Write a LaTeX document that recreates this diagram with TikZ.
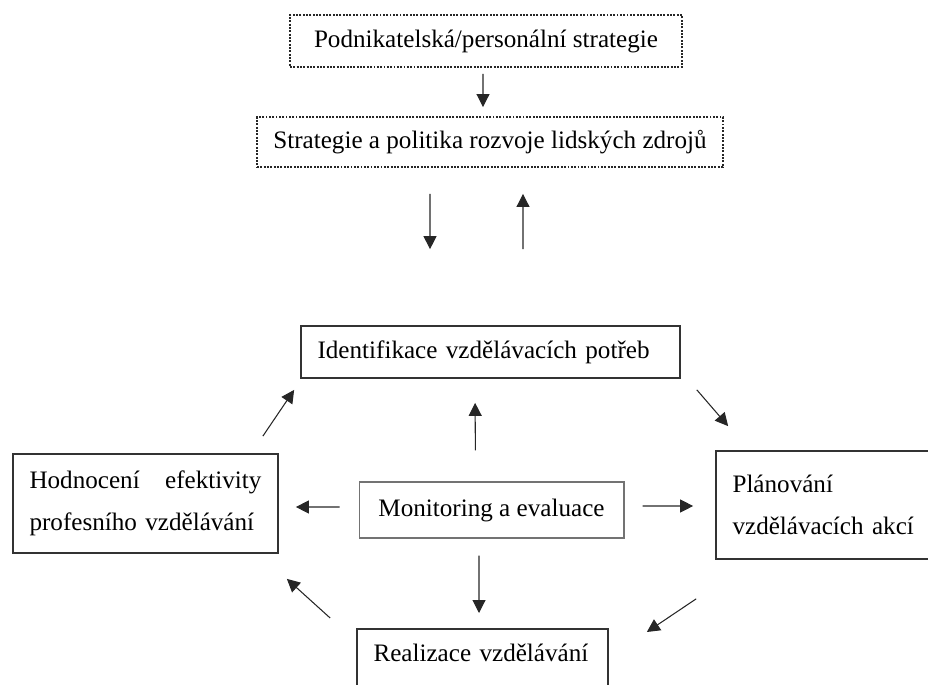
\documentclass[tikz,border=0pt]{standalone}
\usepackage{fontspec}
\setmainfont{Liberation Serif}
\usetikzlibrary{arrows.meta}
\tikzset{
  box/.style={draw=black!80,line width=1pt,inner xsep=0.33cm,inner ysep=0.2cm,align=left,
    font=\fontsize{14.3}{24}\selectfont},
  dotbox/.style={draw=black!85,line width=1.1pt,dash pattern=on 1.1pt off 0.8pt,align=center,
    font=\fontsize{14.3}{24}\selectfont},
  arr/.style={-{Triangle[length=2.6mm,width=2.6mm]},line width=0.6pt,black!85},
}
\begin{document}
\begin{tikzpicture}[x=0.02cm,y=-0.02cm]
        \clip (0,0) rectangle (928,685);
        %% strategy
        \node[dotbox,minimum width=7.84cm,minimum height=1.04cm] (podnik) at (486,41) {Podnikatelská/personální strategie};
        \node[dotbox,minimum width=9.32cm,minimum height=1cm] (strat) at (490,142) {Strategie a politika rozvoje lidských zdrojů};
        \draw[arr,shorten <=0.12cm,shorten >=0.18cm] ([xshift=-0.06cm]podnik.south) -- ([xshift=-0.14cm]strat.north);
        %% cycle
        \node[box,text width=6.92cm,minimum height=1.04cm] (ident) at (490.5,352) {Identifikace vzdělávacích potřeb};
        \node[box,text width=4.64cm,minimum height=1.98cm] (hodn) at (145.5,503.5) {Hodnocení\hfill efektivity\\profesního vzdělávání};
        \node[box,draw=black!55,line width=0.6pt,align=center,minimum width=5.3cm,minimum height=1.12cm] (monit) at (491.5,510) {Monitoring a evaluace};
        \node[box,text width=4.14cm,minimum height=2.16cm] (plan) at (836,505) {Plánování\\vzdělávacích akcí};
        \node[box,text width=4.36cm,inner ysep=0.3cm,anchor=north] (real) at (482.5,628) {Realizace vzdělávání\\\mbox{}};
        \draw[arr,shorten <=0.52cm,shorten >=1.52cm] ([xshift=-1.2cm]strat.south) -- ([xshift=-1.21cm]ident.north);
        \draw[arr,shorten <=1.52cm,shorten >=0.52cm] ([xshift=0.65cm]ident.north) -- ([xshift=0.66cm]strat.south);
        \draw[arr] ([xshift=-0.32cm,yshift=0.34cm]hodn.north east) -- ([xshift=-0.12cm,yshift=-0.22cm]ident.south west);
        \draw[arr] ([xshift=0.32cm,yshift=-0.22cm]ident.south east) -- ([xshift=0.26cm,yshift=0.48cm]plan.north west);
        \draw[arr] ([xshift=-0.38cm,yshift=-0.78cm]plan.south west) -- ([xshift=0.76cm,yshift=-0.08cm]real.north east);
        \draw[arr] ([xshift=-0.52cm,yshift=0.2cm]real.north west) -- ([xshift=0.16cm,yshift=-0.5cm]hodn.south east);
        %% monitoring
        \draw[arr,shorten <=0.62cm,shorten >=0.48cm] ([xshift=-0.32cm]monit.north) -- ([xshift=-0.31cm]ident.south);
        \draw[arr,shorten <=0.38cm,shorten >=0.34cm] ([yshift=0.06cm]monit.west) -- ([yshift=-0.07cm]hodn.east);
        \draw[arr,shorten <=0.36cm,shorten >=0.44cm] ([yshift=0.08cm]monit.east) -- ([yshift=-0.02cm]plan.west);
        \draw[arr,shorten <=0.34cm,shorten >=0.3cm] ([xshift=-0.25cm]monit.south) -- ([xshift=-0.07cm]real.north);
    \end{tikzpicture}
\end{document}
